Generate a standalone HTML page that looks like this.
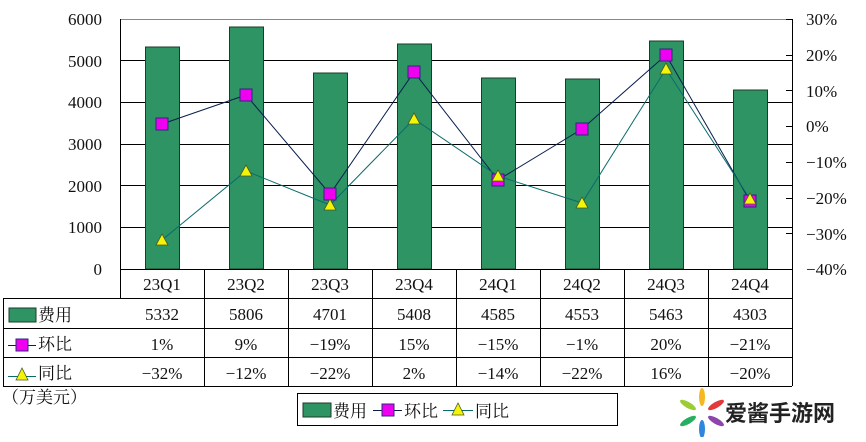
<!DOCTYPE html>
<html><head><meta charset="utf-8"><style>
html,body{margin:0;padding:0;background:#fff;}
svg text{font-family:"Liberation Serif","Noto Serif CJK SC",serif;font-size:17px;fill:#111;}
</style></head><body>
<svg width="866" height="437" viewBox="0 0 866 437" xmlns="http://www.w3.org/2000/svg">
<!-- gridlines -->
<g stroke="#000" stroke-width="1">
<line x1="120" y1="19.5" x2="792" y2="19.5" stroke="#888"/>
<line x1="120" y1="60.5" x2="792" y2="60.5"/>
<line x1="120" y1="102.5" x2="792" y2="102.5"/>
<line x1="120" y1="144.5" x2="792" y2="144.5"/>
<line x1="120" y1="185.5" x2="792" y2="185.5"/>
<line x1="120" y1="227.5" x2="792" y2="227.5"/>
<line x1="120.5" y1="19" x2="120.5" y2="298"/>
<line x1="792.5" y1="19" x2="792.5" y2="386"/>
<line x1="786" y1="19.5" x2="792" y2="19.5"/>
<line x1="786" y1="55.5" x2="792" y2="55.5"/>
<line x1="786" y1="90.5" x2="792" y2="90.5"/>
<line x1="786" y1="126.5" x2="792" y2="126.5"/>
<line x1="786" y1="162.5" x2="792" y2="162.5"/>
<line x1="786" y1="198.5" x2="792" y2="198.5"/>
<line x1="786" y1="233.5" x2="792" y2="233.5"/>
</g>
<!-- bars -->
<g fill="#2e9463" stroke="#1a3d2a" stroke-width="1">
<rect x="145.5" y="47" width="34" height="222"/>
<rect x="229.5" y="27" width="34" height="242"/>
<rect x="313.5" y="73" width="34" height="196"/>
<rect x="397.5" y="44" width="34" height="225"/>
<rect x="481.5" y="78" width="34" height="191"/>
<rect x="565.5" y="79" width="34" height="190"/>
<rect x="649.5" y="41" width="34" height="228"/>
<rect x="733.5" y="90" width="34" height="179"/>
</g>
<!-- left axis labels -->
<g text-anchor="end">
<text x="102" y="25">6000</text><text x="102" y="67">5000</text><text x="102" y="108">4000</text>
<text x="102" y="150">3000</text><text x="102" y="192">2000</text><text x="102" y="233">1000</text><text x="102" y="275">0</text>
</g>
<g>
<text x="806" y="25">30%</text><text x="806" y="61">20%</text><text x="806" y="97">10%</text><text x="806" y="132">0%</text>
<text x="806" y="168">−10%</text><text x="806" y="204">−20%</text><text x="806" y="240">−30%</text><text x="806" y="275">−40%</text>
</g>
<!-- lines -->
<polyline fill="none" stroke="#0a1e50" stroke-width="1" points="162,124 246,95 330,194 414,72 498,180 582,129 666,55 750,201"/>
<polyline fill="none" stroke="#0a6b6b" stroke-width="1" points="162,240 246,171 330,205 414,119 498,176 582,203 666,69 750,199"/>
<g fill="#f000f0" stroke="#2a2a7a" stroke-width="1">
<rect x="156" y="118" width="12" height="12"/><rect x="240" y="89" width="12" height="12"/>
<rect x="324" y="188" width="12" height="12"/><rect x="408" y="66" width="12" height="12"/>
<rect x="492" y="174" width="12" height="12"/><rect x="576" y="123" width="12" height="12"/>
<rect x="660" y="49" width="12" height="12"/><rect x="744" y="195" width="12" height="12"/>
</g>
<g fill="#f4f40a" stroke="#4a5a20" stroke-width="0.8">
<polygon points="162,234 156,245 168,245"/><polygon points="246,165 240,176 252,176"/>
<polygon points="330,199 324,210 336,210"/><polygon points="414,113 408,124 420,124"/>
<polygon points="498,170 492,181 504,181"/><polygon points="582,197 576,208 588,208"/>
<polygon points="666,63 660,74 672,74"/><polygon points="750,193 744,204 756,204"/>
</g>
<!-- table -->
<g stroke="#000" stroke-width="1">
<line x1="120" y1="269.5" x2="792" y2="269.5"/>
<line x1="3" y1="298.5" x2="792" y2="298.5"/>
<line x1="3" y1="328.5" x2="792" y2="328.5"/>
<line x1="3" y1="357.5" x2="792" y2="357.5"/>
<line x1="3" y1="386.5" x2="792" y2="386.5"/>
<line x1="3.5" y1="298" x2="3.5" y2="386"/>
<line x1="204.5" y1="269" x2="204.5" y2="386"/><line x1="288.5" y1="269" x2="288.5" y2="386"/>
<line x1="372.5" y1="269" x2="372.5" y2="386"/><line x1="456.5" y1="269" x2="456.5" y2="386"/>
<line x1="540.5" y1="269" x2="540.5" y2="386"/><line x1="624.5" y1="269" x2="624.5" y2="386"/>
<line x1="708.5" y1="269" x2="708.5" y2="386"/>
</g>
<g text-anchor="middle">
<text x="162" y="290">23Q1</text><text x="246" y="290">23Q2</text><text x="330" y="290">23Q3</text><text x="414" y="290">23Q4</text>
<text x="498" y="290">24Q1</text><text x="582" y="290">24Q2</text><text x="666" y="290">24Q3</text><text x="750" y="290">24Q4</text>
<text x="162" y="320">5332</text><text x="246" y="320">5806</text><text x="330" y="320">4701</text><text x="414" y="320">5408</text>
<text x="498" y="320">4585</text><text x="582" y="320">4553</text><text x="666" y="320">5463</text><text x="750" y="320">4303</text>
<text x="162" y="350">1%</text><text x="246" y="350">9%</text><text x="330" y="350">−19%</text><text x="414" y="350">15%</text>
<text x="498" y="350">−15%</text><text x="582" y="350">−1%</text><text x="666" y="350">20%</text><text x="750" y="350">−21%</text>
<text x="162" y="379">−32%</text><text x="246" y="379">−12%</text><text x="330" y="379">−22%</text><text x="414" y="379">2%</text>
<text x="498" y="379">−14%</text><text x="582" y="379">−22%</text><text x="666" y="379">16%</text><text x="750" y="379">−20%</text>
</g>
<!-- row legends -->
<rect x="9" y="308" width="27" height="14" fill="#2e9463" stroke="#1a3d2a"/>
<text x="38" y="321">费用</text>
<line x1="8" y1="345.5" x2="36" y2="345.5" stroke="#0a1e50"/>
<rect x="16" y="339" width="12" height="12" fill="#f000f0" stroke="#2a2a7a"/>
<text x="38" y="350">环比</text>
<line x1="8" y1="376.5" x2="36" y2="376.5" stroke="#0a6b6b"/>
<polygon points="22,368 16,380 28,380" fill="#f4f40a" stroke="#4a5a20" stroke-width="0.8"/>
<text x="38" y="379">同比</text>
<text x="2" y="403">（万美元）</text>
<!-- legend -->
<rect x="297.5" y="393.5" width="320" height="32" fill="#fff" stroke="#000"/>
<rect x="303" y="403" width="28" height="14" fill="#2e9463" stroke="#1a3d2a"/>
<text x="333" y="417">费用</text>
<line x1="373" y1="410.5" x2="402" y2="410.5" stroke="#0a1e50"/>
<rect x="382" y="404" width="12" height="12" fill="#f000f0" stroke="#2a2a7a"/>
<text x="404" y="417">环比</text>
<line x1="443" y1="410.5" x2="473" y2="410.5" stroke="#0a6b6b"/>
<polygon points="458,403 452,415 464,415" fill="#f4f40a" stroke="#4a5a20" stroke-width="0.8"/>
<text x="475" y="417">同比</text>
<!-- watermark -->
<g transform="translate(702,413)">
<ellipse cx="0" cy="-16" rx="3" ry="9" fill="#f5b820"/>
<ellipse cx="14" cy="-8" rx="3" ry="9" fill="#e23a3a" transform="rotate(60 14 -8)"/>
<ellipse cx="14" cy="8" rx="3" ry="9" fill="#8e44ad" transform="rotate(-60 14 8)"/>
<ellipse cx="0" cy="16" rx="3" ry="9" fill="#2e86de"/>
<ellipse cx="-14" cy="8" rx="3" ry="9" fill="#27ae60" transform="rotate(60 -14 8)"/>
<ellipse cx="-14" cy="-8" rx="3" ry="9" fill="#9acd32" transform="rotate(-60 -14 -8)"/>
</g>
<text x="725" y="421" style="font-family:'Noto Sans CJK SC',sans-serif;font-size:22px;font-weight:bold;fill:#222">爱酱手游网</text>
</svg>
</body></html>
